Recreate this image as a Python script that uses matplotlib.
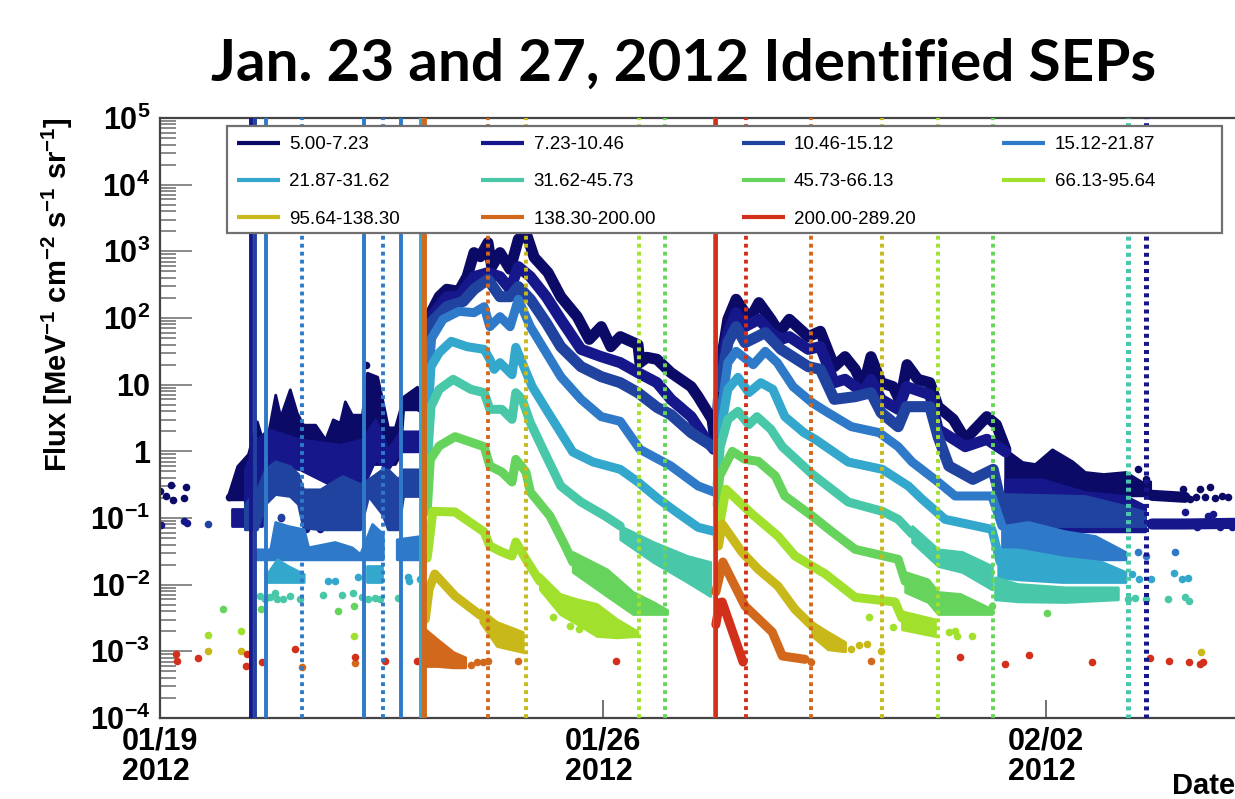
import numpy as np
import matplotlib
matplotlib.use("Agg")
import matplotlib.pyplot as plt
from matplotlib.lines import Line2D
from matplotlib.patches import Rectangle
from matplotlib.ticker import LogLocator, NullFormatter

plt.rcParams['font.family'] = ['Liberation Sans', 'DejaVu Sans']
plt.rcParams['mathtext.fontset'] = 'custom'
plt.rcParams['mathtext.rm'] = 'Liberation Sans'
plt.rcParams['mathtext.bf'] = 'Liberation Sans:bold'

# energy channels (MeV) and their colours
labels = ['5.00-7.23', '7.23-10.46', '10.46-15.12', '15.12-21.87', '21.87-31.62', '31.62-45.73',
          '45.73-66.13', '66.13-95.64', '95.64-138.30', '138.30-200.00', '200.00-289.20']
colors = ['#0b0a66', '#15178a', '#2143a0', '#2e7ac8', '#34a8cc', '#48c8a8',
          '#66d45c', '#a2e02e', '#c8b81a', '#d2681c', '#d2301a']

# curves: (days since 01/19 2012, log10 flux)
ch0_e1 = [(4.20,1.1),(4.28,2.08),(4.41,2.32),(4.53,2.43),(4.72,2.40),(4.85,2.62),(4.96,2.98),(5.06,2.92),(5.18,3.13),(5.24,2.77),
          (5.37,2.98),(5.53,2.73),(5.66,3.18),(5.78,3.28),(5.91,2.91),(6.13,2.68),(6.33,2.32),(6.59,2.02),(6.78,1.68),(6.97,1.87),
          (7.12,1.57),(7.27,1.72),(7.55,1.60),(7.58,1.33),(7.69,1.41),(7.85,1.38),(8.07,1.18),(8.39,.97),(8.50,.82),(8.72,.48),(8.78,.07)]
ch1_e1 = [(4.22,1.0),(4.28,2.02),(4.53,2.32),(4.72,2.32),(4.96,2.62),(5.18,2.68),(5.37,2.62),(5.53,2.43),(5.66,2.77),(5.85,2.62),(6.10,2.32),
          (6.33,1.98),(6.65,1.53),(6.97,1.42),(7.27,1.33),(7.55,1.18),(7.85,1.03),(8.07,.78),(8.39,.52),(8.66,.13),(8.75,.03)]
ch2_e1 = [(4.22,.8),(4.28,1.93),(4.53,2.17),(4.79,2.25),(4.96,2.43),(5.18,2.58),(5.37,2.32),(5.53,2.32),(5.66,2.47),(5.85,2.28),(6.10,1.93),
          (6.33,1.57),(6.65,1.27),(6.97,1.12),(7.27,1.03),(7.55,.88),(7.85,.66),(8.07,.55),(8.39,.28),(8.75,.06)]
ch3_e1 = [(4.22,.5),(4.28,1.68),(4.47,1.98),(4.72,2.10),(4.96,2.08),(5.12,2.17),(5.21,1.87),(5.37,2.02),(5.53,1.87),(5.66,2.28),(5.85,1.87),
          (6.10,1.48),(6.33,1.12),(6.65,.78),(6.97,.52),(7.27,.45),(7.58,.03),(8.07,-.22),(8.50,-.52),(8.75,-.61)]
ch4_e1 = [(4.22,.3),(4.28,1.27),(4.41,1.48),(4.60,1.65),(4.85,1.57),(5.12,1.53),(5.21,1.38),(5.28,1.23),(5.37,1.33),(5.56,1.15),(5.62,1.56),
          (5.72,1.33),(5.88,.97),(6.10,.63),(6.33,.28),(6.52,-.01),(6.84,-.16),(7.27,-.27),(7.55,-.46),(7.88,-.72),(8.20,-.94),(8.50,-1.14),(8.75,-1.20)]
ch5_e1 = [(4.22,-.2),(4.28,.67),(4.41,.93),(4.63,1.08),(4.91,.93),(5.12,.88),(5.21,.63),(5.40,.63),(5.56,.48),(5.62,.88),(5.72,.78),(5.85,.43),
          (6.10,-.07),(6.33,-.52),(6.65,-.76),(7.03,-.97),(7.27,-1.12)]
ch6_e1 = [(4.22,-.9),(4.27,-.12),(4.41,.08),(4.66,.22),(5.12,.07),(5.21,-.22),(5.40,-.31),(5.56,-.46),(5.62,-.12),(5.78,-.31),(5.85,-.61),
          (6.16,-.97),(6.40,-1.42),(6.52,-1.66)]
ch7_e1 = [(4.22,-1.6),(4.31,-.90),(4.66,-.91),(5.12,-1.21),(5.21,-1.42),(5.40,-1.51),(5.56,-1.57),(5.62,-1.36),(5.78,-1.62),(6.0,-1.95)]
ch8_e1 = [(4.19,-2.52),(4.25,-2.07),(4.34,-1.84),(4.66,-2.17),(5.06,-2.46)]

ch0_e2 = [(8.78,.07),(8.85,1.27),(8.97,1.98),(9.10,2.28),(9.24,2.08),(9.34,2.02),(9.46,2.23),(9.65,1.98),(9.78,1.78),(9.94,1.98),
          (10.24,1.72),(10.43,1.80),(10.65,1.27),(10.82,1.42),(10.98,1.23),(11.11,.97),(11.23,1.42),(11.39,1.03),(11.58,.97),(11.69,.75),
          (11.80,1.30),(11.97,1.08),(12.16,1.03),(12.29,.67),(12.53,.48),(12.72,.18),(13.06,.52),(13.21,.40),(13.36,.03)]
ch1_e2 = [(8.85,1.18),(8.97,1.78),(9.10,2.08),(9.24,1.87),(9.46,1.98),(9.65,1.78),(9.81,1.68),(9.94,1.72),(10.24,1.53),(10.43,1.57),
          (10.65,1.03),(10.82,1.08),(11.11,.88),(11.23,1.08),(11.39,.78),(11.66,.63),(11.79,.97),(12.16,.85),(12.29,.33),(12.72,.07),(13.06,.18),(13.36,-.01)]
ch2_e2 = [(8.85,.97),(8.97,1.63),(9.10,1.87),(9.24,1.63),(9.56,1.78),(9.81,1.53),(10.24,1.27),(10.43,1.23),(10.65,.78),(10.98,.82),
          (11.23,.88),(11.39,.58),(11.66,.37),(11.79,.67),(12.16,.67),(12.29,.22),(12.46,-.22),(12.84,-.42),(13.16,-.27),(13.33,-.97)]
ch3_e2 = [(8.85,.52),(8.97,1.33),(9.10,1.50),(9.37,1.30),(9.56,1.50),(9.75,1.33),(10.0,.97),(10.30,.73),(10.55,.58),(10.92,.37),
          (11.36,.28),(11.66,.07),(11.88,-.16),(12.29,-.46),(12.56,-.67),(13.14,-.67),(13.30,-1.12)]
ch4_e2 = [(8.85,.28),(8.97,.93),(9.13,1.11),(9.30,.88),(9.49,1.03),(9.68,.93),(9.87,.52),(10.17,.28),(10.35,.18),(10.87,-.16),
          (11.41,-.27),(11.82,-.52),(12.04,-.72),(12.40,-1.02),(13.14,-1.17),(13.27,-1.66)]
ch5_e2 = [(8.80,-.5),(8.85,.07),(8.97,.48),(9.13,.60),(9.30,.40),(9.43,.52),(9.65,.33),(9.83,.07),(10.30,-.34),(10.87,-.76),
          (11.41,-.90),(11.66,-1.02),(11.88,-1.24)]
ch6_e2 = [(8.80,-.8),(8.84,-.37),(9.04,0),(9.24,-.12),(9.45,-.15),(9.72,-.37),(9.87,-.67),(10.30,-.97),(10.62,-1.21),(10.98,-1.47),(11.66,-1.62),(11.77,-1.95)]
ch7_e2 = [(8.80,-1.3),(8.94,-.57),(9.35,-.94),(9.76,-1.27),(10.03,-1.57),(10.51,-1.84),(10.98,-2.19),(11.61,-2.26),(11.72,-2.50)]
ch8_e2 = [(8.82,-1.42),(8.88,-1.09),(9.19,-1.51),(9.45,-1.77),(9.76,-2.02),(10.03,-2.37),(10.30,-2.62)]
ch9_e2 = [(8.78,-2.11),(8.89,-1.66),(9.24,-2.32),(9.67,-2.71),(9.83,-3.07),(10.19,-3.12)]
ch10_e2 = [(8.78,-2.6),(8.84,-2.27),(8.88,-2.26),(9.21,-3.16)]

# thin tails after the second event
ch0_tail = [(15.67,-.66),(16.19,-.69)]
ch1_tail = [(15.67,-1.09),(16.19,-1.09),(16.98,-1.08)]

# noisy stretches: (day, upper log10 flux, lower log10 flux)
ch0_pre = [(1.07,-.67,-.72),(1.22,-.22,-.72),(1.39,-.04,-.72),(1.53,.45,-.50),(1.66,.03,-.30),(1.82,.85,-.19),(1.90,.52,-.19),(2.05,.93,-.19),
           (2.16,.58,-.19),(2.26,.40,-.19),(2.45,.40,-.19),(2.61,.18,-.19),(2.73,.48,-.19),(2.84,.43,-.19),(2.92,.75,-.19),(3.03,.55,-.19),
           (3.19,.55,-.19),(3.27,1.18,-.19),(3.43,1.12,-.19),(3.52,.73,-.19),(3.60,.36,-.19),(3.71,.36,-.19),(3.79,.63,-.05),(3.84,.82,.63),
           (4.06,.97,.63),(4.11,.73,.60)]
ch1_pre = [(1.34,-.27,-.79),(1.53,.18,-.79),(1.71,.33,-.19),(2.21,.18,-.27),(2.84,.10,-.57),(3.19,.18,-.57),(3.40,.48,-.12),(3.60,.03,-.27),
           (3.79,.30,0),(4.11,.30,0)]
ch1_base = [(1.14,-.87,-1.12),(1.61,-.87,-1.12)]
ch2_pre = [(1.34,-.79,-1.17),(1.53,-.57,-1.17),(1.66,-.27,-.79),(1.82,-.15,-.64),(2.05,-.22,-.67),(2.18,-.34,-.79),(2.26,-.57,-1.14),
           (2.53,-.57,-1.17),(2.88,-.37,-1.17),(3.16,-.49,-1.17),(3.29,-.42,-.67),(3.51,-.27,-.94),(3.60,-.27,-1.17),(3.76,-.42,-1.17),
           (3.84,-.27,-.67),(4.11,-.27,-.67)]
ch3_pre_a = [(1.50,-1.47,-1.62),(1.74,-1.47,-1.62),(1.82,-1.06,-1.62),(2.02,-1.12,-1.62),(2.27,-1.17,-1.62),(2.34,-1.44,-1.62),(2.76,-1.36,-1.62),
             (3.03,-1.44,-1.62),(3.16,-1.54,-1.62),(3.35,-1.09,-1.62),(3.52,-1.24,-1.62)]
ch3_pre_b = [(3.74,-1.32,-1.62),(4.11,-1.27,-1.62)]
ch4_pre_a = [(1.69,-1.84,-1.96),(1.85,-1.62,-1.96),(2.02,-1.72,-1.96),(2.27,-1.84,-1.96)]
ch4_pre_b = [(3.27,-1.72,-1.96),(3.51,-1.72,-1.96)]

ch0_late = [(13.35,.03,-.66),(13.62,-.16,-.66),(13.82,-.19,-.66),(14.09,.03,-.66),(14.41,-.15,-.66),(14.61,-.31,-.66),(14.90,-.34,-.66),
            (15.25,-.31,-.66),(15.51,-.46,-.66),(15.64,-.45,-.66)]
ch1_late = [(13.35,-.42,-1.20),(13.93,-.42,-1.20),(14.61,-.61,-1.20),(15.25,-.67,-1.20),(15.56,-.82,-1.20)]
ch2_late = [(13.33,-.64,-1.12),(14.61,-.67,-1.12),(15.25,-.82,-1.12),(15.56,-.91,-1.12)]
ch3_late = [(13.30,-1.12,-1.44),(13.71,-1.06,-1.54),(14.30,-1.20,-1.62),(14.77,-1.27,-1.62),(15.25,-1.51,-1.62)]
ch4_late = [(13.24,-1.47,-1.89),(13.55,-1.47,-1.92),(14.25,-1.59,-1.96),(14.88,-1.66,-1.96),(15.25,-1.81,-1.96)]
ch5_late = [(13.19,-1.89,-2.22),(13.55,-1.99,-2.25),(14.30,-2.04,-2.26),(15.13,-2.04,-2.22)]

ch5_e1_tail = [(7.27,-1.12,-1.32),(7.79,-1.36,-1.66),(8.33,-1.57,-1.96),(8.69,-1.66,-2.17)]
ch6_e1_tail = [(6.52,-1.51,-1.81),(7.06,-1.77,-2.17),(7.47,-2.11,-2.44),(7.79,-2.26,-2.44),(8.01,-2.38,-2.44)]
ch7_e1_tail = [(6.0,-1.84,-2.07),(6.32,-2.14,-2.44),(6.59,-2.22,-2.59),(6.90,-2.29,-2.77),(7.22,-2.52,-2.79),(7.54,-2.70,-2.77)]
ch8_e1_tail = [(5.06,-2.37,-2.56),(5.32,-2.56,-2.92),(5.73,-2.71,-3.01)]
ch9_e1_tail = [(4.19,-2.67,-3.22),(4.38,-2.82,-3.22),(4.63,-3.01,-3.24),(4.82,-3.09,-3.24)]
ch5_e2_tail = [(11.88,-1.12,-1.36),(12.29,-1.47,-1.72),(12.67,-1.51,-1.81),(13.14,-1.72,-2.07)]
ch6_e2_tail = [(11.77,-1.81,-2.11),(12.13,-1.92,-2.26),(12.29,-2.11,-2.44),(12.64,-2.14,-2.44),(13.14,-2.37,-2.44)]
ch7_e2_tail = [(11.72,-2.40,-2.67),(12.24,-2.52,-2.77)]
ch8_e2_tail = [(10.30,-2.56,-2.77),(10.55,-2.71,-2.97),(10.82,-2.86,-3.0)]

# single points
ch0_dots = [(0,-.60),(.09,-.67),(.21,-.73),(.17,-.51),(.38,-.70),(.41,-.54),(1.09,-.69),(3.25,1.30),(15.44,-.27),(15.57,-.42),(16.16,-.57),(16.27,-.72),
            (16.37,-.69),(16.43,-.57),(16.59,-.54),(16.51,-.69),(16.67,-.70),(16.77,-.67),(16.87,-.69)]
ch1_dots = [(.02,-1.11),(.38,-1.05),(.43,-1.08),(1.91,-1.0),(2.30,-1.17),(2.53,-1.17),(16.19,-.91),(16.56,-.97),(16.63,-.94),(16.38,-1.14),(16.75,-1.14),(16.94,-1.14)]
ch2_dots = [(.76,-1.09),(1.91,-.99)]
ch3_dots = [(15.45,-1.51),(15.57,-1.57),(16.03,-1.51)]
ch4_dots = [(2.65,-1.95),(2.76,-1.95),(3.13,-1.89),(3.92,-1.89),(3.93,-1.95),(4.11,-1.92),(15.35,-1.84),(15.47,-1.92),(15.65,-1.92),(16.02,-1.83),(16.14,-1.92),(16.23,-1.90)]
ch5_dots = [(1.58,-2.17),(1.66,-2.22),(1.82,-2.12),(1.74,-2.19),(1.85,-2.22),(2.05,-2.17),(2.21,-2.22),(2.57,-2.16),(2.88,-2.16),(3.05,-2.13),
            (3.19,-2.19),(3.29,-2.22),(3.40,-2.20),(3.48,-2.22),(3.76,-2.20),(1.95,-2.22),(15.29,-2.22),(15.40,-2.20),(15.57,-2.22),(15.92,-2.22),(16.19,-2.19),(16.26,-2.25)]
ch6_dots = [(1.0,-2.37),(1.60,-2.37),(2.81,-2.40),(3.06,-2.32),(13.14,-2.32),(14.01,-2.43)]
ch7_dots = [(.76,-2.75),(1.28,-2.70),(3.06,-2.77),(11.20,-2.49),(11.58,-2.64),(12.46,-2.71),(12.56,-2.70),(12.59,-2.77),(12.83,-2.77),
            (6.20,-2.49),(6.48,-2.62),(6.62,-2.66)]
ch8_dots = [(.76,-3.0),(1.28,-3.0),(10.92,-2.97),(11.04,-2.91),(11.17,-2.89),(11.39,-3.0),(16.45,-3.01)]
ch9_dots = [(2.24,-3.24),(3.08,-3.18),(4.92,-3.2),(5.0,-3.16),(5.10,-3.16),(5.18,-3.15),(5.66,-3.15),(10.28,-3.16),(11.23,-3.15)]
ch10_dots = [(.25,-3.04),(.27,-3.15),(.60,-3.10),(1.37,-3.04),(1.36,-3.22),(1.61,-3.16),(2.13,-2.97),(3.08,-3.09),(3.55,-3.15),(4.06,-3.15),
             (7.20,-3.15),(12.64,-3.09),(13.35,-3.19),(13.73,-3.06),(14.72,-3.16),(15.64,-3.10),(15.94,-3.15),(16.26,-3.16),(16.43,-3.19),(16.48,-3.16)]

# identified onset (solid) and end (dotted) times: (day, channel)
onset_lines = [(1.44,1),(1.50,2),(1.67,3),(3.22,3),(3.80,3),(4.12,4),(4.17,9),(4.19,9),(8.76,9),(8.78,10)]
end_lines = [(2.25,3),(3.52,3),(5.18,9),(5.78,8),(7.57,7),(7.98,6),(9.25,10),(10.28,9),(11.40,8),(12.29,7),(13.16,6)]
wide_end_lines = [(15.29,5),(15.57,1)]

y_ticks = [5, 4, 3, 2, 1, 0, -1, -2, -3, -4]
y_ticklabels = [r'$\mathbf{10^{5}}$', r'$\mathbf{10^{4}}$', r'$\mathbf{10^{3}}$', r'$\mathbf{10^{2}}$', '10', '1',
                r'$\mathbf{10^{-1}}$', r'$\mathbf{10^{-2}}$', r'$\mathbf{10^{-3}}$', r'$\mathbf{10^{-4}}$']
x_ticks = [0, 7, 14]
x_ticklabels = ['01/19\n2012', '01/26\n2012', '02/02\n2012']

traces = [(0, ch0_e1), (1, ch1_e1), (2, ch2_e1), (3, ch3_e1), (4, ch4_e1), (5, ch5_e1), (6, ch6_e1), (7, ch7_e1), (8, ch8_e1),
          (0, ch0_e2), (1, ch1_e2), (2, ch2_e2), (3, ch3_e2), (4, ch4_e2), (5, ch5_e2), (6, ch6_e2), (7, ch7_e2), (8, ch8_e2), (9, ch9_e2), (10, ch10_e2),
          (0, ch0_tail), (1, ch1_tail)]
bands = [(0, ch0_pre), (1, ch1_pre), (1, ch1_base), (2, ch2_pre), (3, ch3_pre_a), (3, ch3_pre_b), (4, ch4_pre_a), (4, ch4_pre_b),
         (0, ch0_late), (1, ch1_late), (2, ch2_late), (3, ch3_late), (4, ch4_late), (5, ch5_late),
         (5, ch5_e1_tail), (6, ch6_e1_tail), (7, ch7_e1_tail), (8, ch8_e1_tail), (9, ch9_e1_tail),
         (5, ch5_e2_tail), (6, ch6_e2_tail), (7, ch7_e2_tail), (8, ch8_e2_tail)]
dots = [ch0_dots, ch1_dots, ch2_dots, ch3_dots, ch4_dots, ch5_dots, ch6_dots, ch7_dots, ch8_dots, ch9_dots, ch10_dots]

fig = plt.figure(figsize=(12.35, 7.99), dpi=100)
ax = fig.add_axes([160 / 1235, 81 / 799, 1075 / 1235, 600 / 799])
ax.set_yscale('log')
ax.set_xlim(0, 16.98)
ax.set_ylim(1e-4, 1e5)

# channels go from low to high energy so the high ones lie on top
for ch in range(11):
    for c, band in bands:
        if c == ch:
            b = np.array(band)
            ax.fill_between(b[:, 0], 10 ** b[:, 2], 10 ** b[:, 1], facecolor=colors[ch], edgecolor=colors[ch],
                            linewidth=2, joinstyle='round', zorder=2 + ch * 0.1)
    for c, trace in traces:
        if c == ch:
            t = np.array(trace)
            # the three lowest channels scatter more, so their band is wider
            width = 8 if ch < 3 else 6.5
            ax.plot(t[:, 0], 10 ** t[:, 1], color=colors[ch], linewidth=width, solid_joinstyle='round',
                    solid_capstyle='round', zorder=2 + ch * 0.1)
    d = np.array(dots[ch])
    ax.scatter(d[:, 0], 10 ** d[:, 1], s=30, color=colors[ch], linewidths=0, zorder=2 + ch * 0.1)

for day, ch in onset_lines:
    ax.axvline(day, color=colors[ch], linewidth=2.8, zorder=4)
for day, ch in end_lines:
    ax.axvline(day, color=colors[ch], linewidth=2.8, linestyle=(0, (1, 1.05)), zorder=4)
for day, ch in wide_end_lines:
    ax.axvline(day, color=colors[ch], linewidth=3.6, linestyle=(0, (0.8, 0.82)), zorder=4)

ax.spines['right'].set_visible(False)
for side in ['left', 'bottom', 'top']:
    ax.spines[side].set_color('#444444')
    ax.spines[side].set_linewidth(1.6)

ax.set_yticks([10.0 ** v for v in y_ticks])
ax.set_yticklabels(y_ticklabels, fontsize=22, fontweight='bold')
ax.yaxis.set_minor_locator(LogLocator(base=10, subs=np.arange(2, 10) / 1.0, numticks=12))
ax.yaxis.set_minor_formatter(NullFormatter())
ax.tick_params(axis='y', which='major', direction='in', length=23, width=1.3, color='#808080', pad=7)
ax.tick_params(axis='y', which='minor', direction='in', length=11.5, width=1.3, color='#808080')
ax.set_xticks(x_ticks)
ax.set_xticklabels(x_ticklabels, fontsize=22, fontweight='bold', linespacing=1.05, multialignment='left')
ax.tick_params(axis='x', which='major', direction='in', length=13, width=1.3, color='#666666', pad=6)

# the box is wider than the entries, so it is drawn on its own
ax.add_patch(Rectangle((67 / 1075, 485 / 600), 995 / 1075, 107 / 600, transform=ax.transAxes, facecolor='white',
                       edgecolor='#707070', linewidth=1.6, zorder=19))
handles = [Line2D([], [], color=c, linewidth=3, solid_capstyle='butt') for c in colors]
order = [0, 4, 8, 1, 5, 9, 2, 6, 10, 3, 7]
legend_labels = [labels[i] for i in order]
legend_labels[5] += ' '
legend_labels[8] += ' '
leg = ax.legend([handles[i] for i in order], legend_labels, ncol=4, loc='upper left',
                bbox_to_anchor=(77 / 1075, 582 / 600), borderaxespad=0, fontsize=13.5, frameon=False,
                handlelength=2.3, handletextpad=0.5, columnspacing=4.32, labelspacing=1.07, borderpad=0)
leg.set_zorder(20)

fig.text(57 / 1235, 1 - 295 / 799,
         r'Flux [MeV$^{\mathbf{-1}}$ cm$^{\mathbf{-2}}$ s$^{\mathbf{-1}}$ sr$^{\mathbf{-1}}$]',
         rotation=90, ha='center', va='center', fontsize=21, fontweight='bold')
fig.text(1235 / 1235, 1 - 786 / 799, 'Date', ha='right', va='center', fontsize=21, fontweight='bold')
fig.text(684 / 1235, 1 - 64 / 799, 'Jan. 23 and 27, 2012 Identified SEPs', ha='center', va='center',
         fontsize=42, fontweight='bold', family='Lato')

fig.savefig('out.png', dpi=100)
